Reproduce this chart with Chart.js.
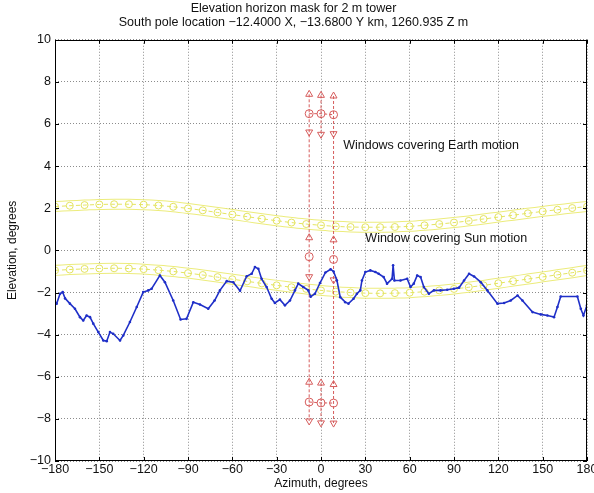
<!DOCTYPE html>
<html lang="en">
<head>
<meta charset="UTF-8">
<title>Elevation horizon mask for 2 m tower</title>
<script src="https://cdn.jsdelivr.net/npm/chart.js"></script>
<style>
  html, body { margin: 0; padding: 0; background: #fff; }
  #wrap { width: 594px; height: 493px; }
</style>
</head>
<body>
<div id="wrap"><canvas id="maskChart"></canvas></div>
<script>
// axis ticks
const xTicks = [-180, -150, -120, -90, -60, -30, 0, 30, 60, 90, 120, 150, 180];
const yTicks = [-10, -8, -6, -4, -2, 0, 2, 4, 6, 8, 10];

// horizon mask (blue)
const maskAz = [-180, -178.9, -176.6, -174.8, -173.2, -169.9, -166.5, -163.1, -160.9, -158.6,
  -156.3, -154.1, -150.7, -147.3, -145, -142.8, -140.6, -136, -133.8, -129.3,
  -124.7, -120.3, -116.9, -114.6, -109, -105.6, -100, -95, -91, -86.4,
  -81.9, -76.3, -72, -68.4, -63.8, -59.4, -54.8, -50.3, -46.9, -44.7,
  -42.4, -40.2, -36.8, -33.4, -31.2, -27.8, -24.4, -21, -17.6, -15.4,
  -12, -8.6, -7, -4.1, -0.7, 3, 6.5, 8.5, 10.8, 13,
  16.4, 18.6, 22, 24.3, 26.6, 27.7, 30, 33.4, 36.8, 39,
  42.4, 44.7, 48.1, 48.8, 49.7, 53.8, 58.3, 60.6, 62.8, 65.1,
  67.4, 69.6, 73, 76.4, 80.9, 85.4, 89.9, 93.4, 96.8, 100.2,
  103.6, 108.1, 112.6, 119.4, 123.9, 128.4, 133, 136.3, 143.1, 148.7,
  153.2, 157.7, 160, 162.2, 173.5, 175.8, 177.6, 180];
const maskEl = [-2.45, -2.53, -2.06, -1.98, -2.28, -2.53, -2.77, -3.17, -3.33, -3.09,
  -3.17, -3.48, -3.88, -4.28, -4.31, -3.88, -3.96, -4.28, -4.04, -3.40,
  -2.69, -1.98, -1.90, -1.82, -1.19, -1.51, -2.38, -3.28, -3.25, -2.46,
  -2.57, -2.77, -2.38, -1.90, -1.46, -1.51, -1.92, -1.23, -1.11, -0.79,
  -0.87, -1.35, -1.74, -2.30, -2.50, -2.34, -2.61, -2.38, -1.90, -1.58,
  -1.74, -1.90, -2.20, -2.06, -1.55, -1.05, -0.90, -1.00, -1.43, -2.22,
  -2.46, -2.53, -2.30, -2.06, -1.90, -1.43, -1.03, -0.95, -1.03, -1.11,
  -1.27, -1.58, -1.35, -0.71, -1.43, -1.43, -1.35, -1.74, -1.58, -1.19,
  -1.27, -1.74, -2.06, -1.90, -1.90, -1.87, -1.82, -1.77, -1.43, -1.11,
  -1.24, -1.51, -1.90, -2.53, -2.50, -2.38, -2.14, -2.38, -2.93, -3.04,
  -3.09, -3.17, -2.69, -2.19, -2.19, -2.77, -3.09, -2.60];

// sun windows (yellow bands), centre lines
const bandAz = [-180, -170, -160, -150, -140, -130, -120, -110, -100, -90, -80, -70, -60,
  -50, -40, -30, -20, -10, 0, 10, 20, 30, 40, 50, 60, 70, 80, 90, 100, 110, 120,
  130, 140, 150, 160, 170, 180];
const sunUpperEl = [2.08, 2.12, 2.15, 2.18, 2.19, 2.19, 2.17, 2.13, 2.07, 1.99, 1.90, 1.80, 1.70,
  1.60, 1.50, 1.41, 1.32, 1.25, 1.19, 1.14, 1.11, 1.10, 1.10, 1.11, 1.14, 1.19, 1.25, 1.32,
  1.40, 1.49, 1.58, 1.67, 1.76, 1.85, 1.93, 2.01, 2.08];
const sunLowerEl = [-0.95, -0.91, -0.88, -0.86, -0.85, -0.86, -0.89, -0.94, -1.00, -1.08, -1.17,
  -1.27, -1.37, -1.47, -1.57, -1.66, -1.75, -1.83, -1.90, -1.96, -2.00, -2.03, -2.04, -2.03,
  -2.01, -1.96, -1.90, -1.83, -1.75, -1.66, -1.56, -1.46, -1.36, -1.26, -1.16, -1.06, -0.95];

// earth windows (red), one vertical line per azimuth
const windowAz = [-8, 0, 8.5];
const windowTopUp = [7.41, 7.36, 7.33];
const windowTopMid = [6.49, 6.49, 6.44];
const windowTopDown = [5.62, 5.51, 5.54];
const windowMidUp = [0.6, null, 0.5];
const windowMidMid = [-0.3, null, -0.43];
const windowMidDown = [-1.25, null, -1.4];
const windowBotUp = [-6.26, -6.30, -6.37];
const windowBotMid = [-7.20, -7.24, -7.25];
const windowBotDown = [-8.10, -8.19, -8.20];

const titleLines = ['Elevation horizon mask for 2 m tower',
  'South pole location \u221212.4000 X, \u221213.6800 Y km, 1260.935 Z m'];
const notes = ['Windows covering Earth motion', 'Window covering Sun motion'];
const noteAz = [15, 30];
const noteEl = [4.98, 0.57];

const FONT = '"Liberation Sans", Arial, Helvetica, sans-serif';
const RED = '#d65c5c';
const YEL_EDGE = '#ecec7c';
const YEL = '#e4e460';
const BLUE = '#1f2fc8';

const xy = (xs, ys) => xs.map((v, i) => ({ x: v, y: ys[i] }));

const datasets = [];

datasets.push({
  data: xy(maskAz, maskEl),
  borderColor: BLUE, backgroundColor: BLUE,
  borderWidth: 1.6, pointRadius: 1.3, pointBorderWidth: 0,
  order: 0
});

// red window lines
const groups = [windowTopUp, windowTopMid, windowTopDown, windowMidUp, windowMidMid,
  windowMidDown, windowBotUp, windowBotMid, windowBotDown];
windowAz.forEach((az, i) => {
  datasets.push({
    data: groups.map(g => ({ x: az, y: g[i] })),
    borderColor: RED, borderWidth: 1, borderDash: [3, 2],
    pointStyle: ['triangle', 'circle', 'triangle', 'triangle', 'circle', 'triangle', 'triangle', 'circle', 'triangle'],
    pointRotation: [0, 0, 180, 0, 0, 180, 0, 0, 180],
    pointRadius: 4, pointBorderColor: RED, pointBackgroundColor: 'rgba(0,0,0,0)',
    pointBorderWidth: 1, spanGaps: false, order: 1
  });
});
[windowTopMid, windowBotMid].forEach(g => {
  datasets.push({
    data: xy(windowAz, g),
    borderColor: RED, borderWidth: 1, borderDash: [3, 2], pointRadius: 0, order: 1
  });
});

// yellow bands: edge stroke, white inside, dashed centre with circles
[sunUpperEl, sunLowerEl].forEach(band => {
  datasets.push({
    data: xy(bandAz, band), borderColor: YEL, borderWidth: 1, borderDash: [4, 3],
    pointRadius: 3.5, pointBorderColor: YEL, pointBackgroundColor: 'rgba(0,0,0,0)',
    pointBorderWidth: 1, tension: 0.3, order: 2
  });
  datasets.push({
    data: xy(bandAz, band), borderColor: '#ffffff', borderWidth: 9,
    pointRadius: 0, tension: 0.3, order: 3
  });
  datasets.push({
    data: xy(bandAz, band), borderColor: YEL_EDGE, borderWidth: 11,
    pointRadius: 0, tension: 0.3, order: 4
  });
});

const framePlugin = {
  id: 'frame',
  afterDraw(chart) {
    const { ctx, chartArea: a, scales: { x, y } } = chart;
    ctx.save();
    ctx.strokeStyle = '#000';
    ctx.lineWidth = 1;
    ctx.strokeRect(Math.round(a.left) + 0.5, Math.round(a.top) + 0.5,
      Math.round(a.width) - 1, Math.round(a.height) - 1);
    ctx.beginPath();
    xTicks.forEach(v => {
      const px = Math.round(x.getPixelForValue(v)) + 0.5;
      ctx.moveTo(px, a.bottom); ctx.lineTo(px, a.bottom - 4);
      ctx.moveTo(px, a.top); ctx.lineTo(px, a.top + 4);
    });
    yTicks.forEach(v => {
      const py = Math.round(y.getPixelForValue(v)) + 0.5;
      ctx.moveTo(a.left, py); ctx.lineTo(a.left + 4, py);
      ctx.moveTo(a.right, py); ctx.lineTo(a.right - 4, py);
    });
    ctx.stroke();
    ctx.fillStyle = '#111';
    ctx.font = '12.5px ' + FONT;
    ctx.textBaseline = 'middle';
    notes.forEach((t, i) => ctx.fillText(t, x.getPixelForValue(noteAz[i]), y.getPixelForValue(noteEl[i])));
    ctx.restore();
  }
};

const fmt = v => (v < 0 ? '\u2212' + Math.abs(v) : String(v));

new Chart(document.getElementById('maskChart'), {
  type: 'line',
  data: { datasets },
  options: {
    responsive: true,
    maintainAspectRatio: false,
    devicePixelRatio: 1,
    animation: false,
    layout: { padding: { left: 0, right: 7, top: 0, bottom: 0 } },
    plugins: {
      legend: { display: false },
      tooltip: { enabled: false },
      title: {
        display: true, text: titleLines, color: '#111',
        font: { family: FONT, size: 12.5, weight: 'normal', lineHeight: 1.15 },
        padding: { top: 1, bottom: 10 }
      }
    },
    scales: {
      x: {
        type: 'linear', min: -180, max: 180,
        afterBuildTicks: s => { s.ticks = xTicks.map(v => ({ value: v })); },
        afterFit: s => { s.height = 32; s.paddingRight = 0; s.paddingLeft = 0; },
        grid: { color: '#8c8c8c', drawTicks: false },
        border: { display: false, dash: [1, 2] },
        ticks: { color: '#111', font: { family: FONT, size: 12.5 }, padding: 1, maxRotation: 0, callback: fmt },
        title: { display: true, text: 'Azimuth, degrees', color: '#111',
          font: { family: FONT, size: 12 }, padding: { top: 0, bottom: 2 } }
      },
      y: {
        type: 'linear', min: -10, max: 10,
        afterBuildTicks: s => { s.ticks = yTicks.map(v => ({ value: v })); },
        afterFit: s => { s.width = 55; },
        grid: { color: '#8c8c8c', drawTicks: false },
        border: { display: false, dash: [1, 2] },
        ticks: { color: '#111', font: { family: FONT, size: 12.5 }, padding: 4, callback: fmt },
        title: { display: true, text: 'Elevation, degrees', color: '#111',
          font: { family: FONT, size: 12 }, padding: { top: 5, bottom: 0 } }
      }
    }
  },
  plugins: [framePlugin]
});
</script>
</body>
</html>
